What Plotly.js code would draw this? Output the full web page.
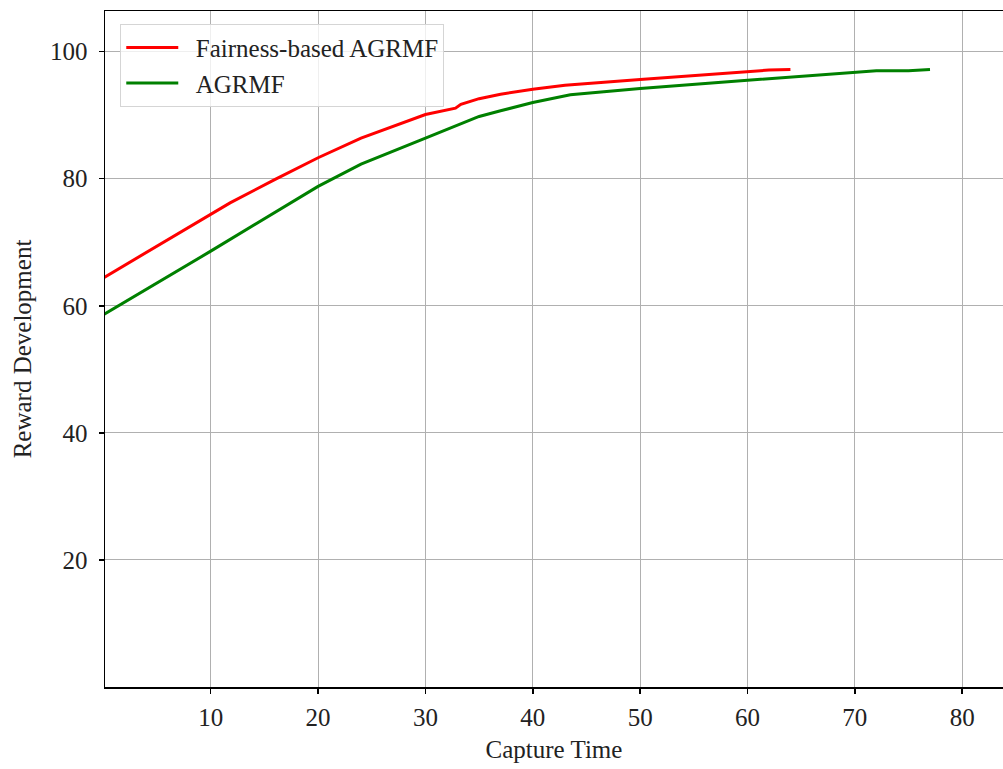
<!DOCTYPE html>
<html>
<head>
<meta charset="utf-8">
<script src="https://cdn.plot.ly/plotly-3.0.1.min.js"></script>
<style>html,body{margin:0;padding:0;background:#fff;overflow:hidden}#chart{width:1003px;height:769px}</style>
</head>
<body>
<div id="chart"></div>
<script>
const seriesNames = ["Fairness-based AGRMF", "AGRMF"];
const redX = [0, 10, 11.8, 16, 20, 24, 30, 32.8, 33.3, 35, 37, 40, 43, 50, 55, 60, 62, 64];
const redY = [64.4, 74.3, 76.2, 79.9, 83.3, 86.4, 90.1, 91.1, 91.7, 92.6, 93.3, 94.1, 94.7, 95.6, 96.2, 96.9, 97.1, 97.2];
const greenX = [0, 10, 20, 24, 30, 35, 37, 40, 43.5, 47, 50, 60, 65, 70, 72, 75, 77];
const greenY = [58.6, 68.6, 78.8, 82.3, 86.4, 89.8, 90.7, 92.0, 93.2, 93.8, 94.2, 95.5, 96.1, 96.7, 97.0, 97.0, 97.2];
const xTicks = [10, 20, 30, 40, 50, 60, 70, 80];
const yTicks = [20, 40, 60, 80, 100];

const font = "Liberation Serif";
const fs = 25;
const traces = [
  {x: redX, y: redY, name: "\u2002" + seriesNames[0], mode: "lines", line: {color: "#ff0000", width: 3}},
  {x: greenX, y: greenY, name: "\u2002" + seriesNames[1], mode: "lines", line: {color: "#008000", width: 3}}
];
const layout = {
  width: 1003, height: 769,
  margin: {l: 105, r: 0, t: 11, b: 82},
  paper_bgcolor: "#fff", plot_bgcolor: "#fff",
  font: {family: font, size: fs, color: "#222"},
  showlegend: true,
  legend: {x: 0.017, y: 0.981, xanchor: "left", yanchor: "top",
    bgcolor: "rgba(255,255,255,0.8)", bordercolor: "#d5d5d5", borderwidth: 1,
    font: {family: font, size: fs, color: "#222"}, itemwidth: 52},
  xaxis: {range: [0.15, 83.8], tickvals: xTicks, ticktext: xTicks.map(String),
    showgrid: true, gridcolor: "#b0b0b0", gridwidth: 1, zeroline: false,
    showline: true, linecolor: "#000", linewidth: 1.5, mirror: true,
    ticks: "outside", ticklen: 5, tickwidth: 1.5, tickcolor: "#000", ticklabelstandoff: 2,
    tickfont: {family: font, size: fs, color: "#222"},
    title: {text: "Capture Time", font: {family: font, size: fs, color: "#222"}, standoff: 11}},
  yaxis: {range: [0, 106.4], tickvals: yTicks, ticktext: yTicks.map(String),
    showgrid: true, gridcolor: "#b0b0b0", gridwidth: 1, zeroline: false,
    showline: true, linecolor: "#000", linewidth: 1.5, mirror: false,
    ticks: "outside", ticklen: 5, tickwidth: 1.5, tickcolor: "#000", ticklabelstandoff: 6,
    tickfont: {family: font, size: fs, color: "#222"},
    title: {text: "Reward Development", font: {family: font, size: fs, color: "#222"}, standoff: 11}}
};
Plotly.newPlot("chart", traces, layout, {displayModeBar: false, staticPlot: true});
</script>
</body>
</html>
